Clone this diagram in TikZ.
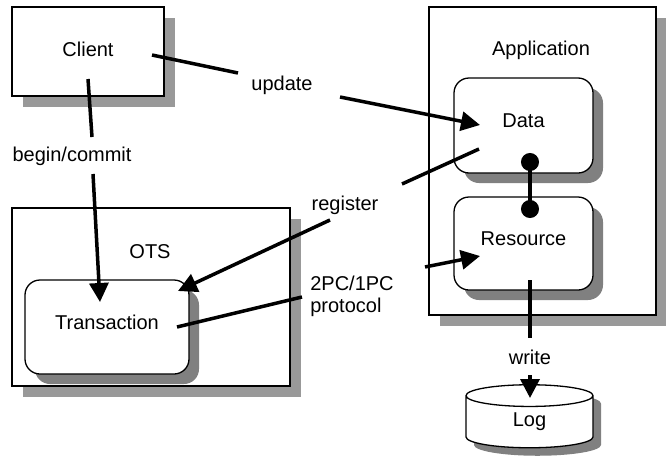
\documentclass[tikz,border=0pt]{standalone}
\usepackage{fontspec}
\setmainfont{Liberation Sans}
\usetikzlibrary{shapes.geometric,arrows.meta,shadows}

\tikzset{
  outerbox/.style={draw, line width=1.3pt, fill=white, inner sep=0pt,
    drop shadow={shadow xshift=11pt, shadow yshift=-11pt, fill=black!40, opacity=1}},
  innerbox/.style={draw, line width=1.3pt, fill=white, rounded corners=15pt,
    inner sep=0pt, text depth=9pt,
    drop shadow={shadow xshift=10pt, shadow yshift=-10pt, fill=black!50, opacity=1}},
  link/.style={line width=3.5pt},
  arrow/.style={line width=3.5pt, -{Triangle[length=19pt,width=19pt]}},
}

\begin{document}
\begin{tikzpicture}[x=1pt, y=-1pt, font=\fontsize{20}{22}\selectfont]
    \useasboundingbox (0, 0) rectangle (666, 458);

    % Client
    \node [outerbox, minimum width=152pt, minimum height=89pt, text depth=5pt] (client) at (88, 51.5) {Client};

    % Application with Data and Resource
    \node [outerbox, minimum width=227pt, minimum height=308pt] (app) at (542.5, 161) {};
    \node (applabel) at (541, 50) {Application};
    \node [innerbox, minimum width=139pt, minimum height=95pt] (data) at (523.5, 125.5) {Data};
    \node [innerbox, minimum width=139pt, minimum height=93pt] (resource) at (523.5, 243.5) {Resource};

    % OTS with Transaction
    \node [outerbox, minimum width=278pt, minimum height=178pt] (ots) at (151, 297) {};
    \node (otslabel) at (150, 252) {OTS};
    \node [innerbox, minimum width=164pt, minimum height=94pt] (transaction) at (107, 327) {Transaction};

    % Log
    \node [cylinder, shape border rotate=90, aspect=0.65, draw, line width=1.3pt, fill=white,
        minimum width=127pt, minimum height=63pt, inner sep=0pt,
        drop shadow={shadow xshift=8pt, shadow yshift=-8pt, fill=black!50, opacity=1}] (log) at (529.5, 422) {Log};

    % Labels
    \node (update) at (282, 85) {update};
    \node (begincommit) at (72, 156) {begin/commit};
    \node (register) at (345, 205) {register};
    \node [align=left] (protocol) at (352, 296) {2PC/1PC\\protocol};
    \node (write) at (530, 357) {write};

    % Connector ends
    \coordinate (updA) at (152, 55);
    \coordinate (updB) at (238, 73);
    \coordinate (updC) at (340, 97);
    \coordinate (updD) at (480, 125);
    \coordinate (begA) at (88, 79);
    \coordinate (begB) at (92, 137);
    \coordinate (begC) at (93, 174);
    \coordinate (begD) at (100, 302);
    \coordinate (regA) at (479, 149);
    \coordinate (regB) at (402, 184);
    \coordinate (regC) at (330, 220);
    \coordinate (regD) at (178, 291);
    \coordinate (pcA) at (177, 327);
    \coordinate (pcB) at (302, 297);
    \coordinate (pcC) at (425, 267);
    \coordinate (pcD) at (480, 256);
    \coordinate (wrA) at (530, 280);
    \coordinate (wrB) at (530, 338);
    \coordinate (wrC) at (530, 375);
    \coordinate (wrD) at (530, 398);
    \coordinate (dotA) at (530, 153);
    \coordinate (dotB) at (530, 218);

    % Connectors
    \draw [link] (updA) -- (updB);
    \draw [arrow] (updC) -- (updD);
    \draw [link] (begA) -- (begB);
    \draw [arrow] (begC) -- (begD);
    \draw [link] (regA) -- (regB);
    \draw [arrow] (regC) -- (regD);
    \draw [link] (pcA) -- (pcB);
    \draw [arrow] (pcC) -- (pcD);
    \draw [link] (wrA) -- (wrB);
    \draw [arrow] (wrC) -- (wrD);
    \draw [link, {Circle[length=18pt]}-{Circle[length=18pt]}] (dotA) -- (dotB);
\end{tikzpicture}
\end{document}
